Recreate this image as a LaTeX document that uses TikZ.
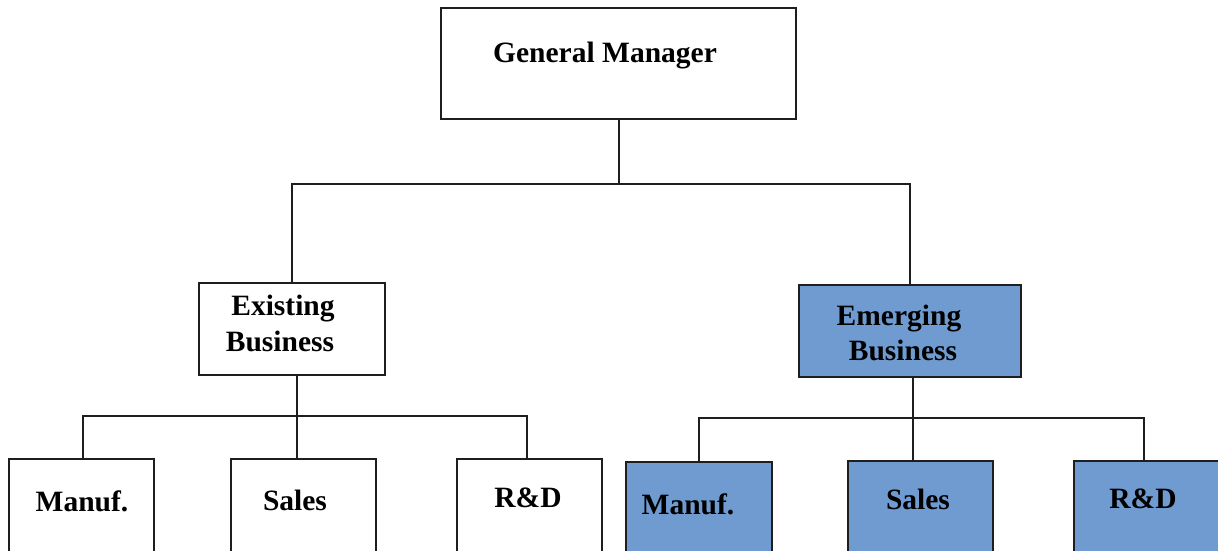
\documentclass[tikz,border=0pt]{standalone}
\usepackage{fontspec}
\setmainfont{Liberation Serif}
\definecolor{boxblue}{RGB}{111,155,209}
\definecolor{edge}{RGB}{30,30,30}
\begin{document}
\begin{tikzpicture}[x=1pt,y=-1pt,
  box/.style={draw=edge, line width=1.8pt, rectangle, inner sep=0pt, outer sep=0pt, anchor=north west},
  bluebox/.style={box, fill=boxblue},
  lbl/.style={font=\bfseries\fontsize{29.5}{36}\selectfont, anchor=base, inner sep=0pt},
  conn/.style={draw=edge, line width=1.8pt}]
\useasboundingbox (0,0) rectangle (1218,550);
\clip (0,0) rectangle (1218,550);

% boxes
\node[box, minimum width=355pt, minimum height=111pt] (gm) at (441,8) {};
\node[box, minimum width=186pt, minimum height=92pt] (ex) at (199,283) {};
\node[bluebox, minimum width=222pt, minimum height=92pt] (em) at (799,285) {};

\node[box, minimum width=145pt, minimum height=110pt] (exm) at (9,459) {};
\node[box, minimum width=145pt, minimum height=110pt] (exs) at (231,459) {};
\node[box, minimum width=145pt, minimum height=110pt] (exr) at (457,459) {};

\node[bluebox, minimum width=146pt, minimum height=110pt] (emm) at (626,462) {};
\node[bluebox, minimum width=145pt, minimum height=110pt] (ems) at (848,461) {};
\node[bluebox, minimum width=146pt, minimum height=110pt] (emr) at (1074,461) {};

% labels
\node[lbl] (gmt) at (605,62) {General Manager};
\node[lbl] (ext1) at (283,315) {Existing};
\node[lbl] (ext2) at (280,351) {Business};
\node[lbl] (emt1) at (899,325) {Emerging};
\node[lbl] (emt2) at (903,360) {Business};

\node[lbl] (exmt) at (82,511) {Manuf.};
\node[lbl] (exst) at (295,510) {Sales};
\node[lbl] (exrt) at (528,507) {R\&D};
\node[lbl] (emmt) at (688,514) {Manuf.};
\node[lbl] (emst) at (918,509) {Sales};
\node[lbl] (emrt) at (1143,508) {R\&D};

% connectors
\coordinate (topbus) at (619,184);
\coordinate (exbus) at (297,416);
\coordinate (embus) at (913,418);

\draw[conn] (topbus |- gm.south) -- (topbus);
\draw[conn] (ex.north) |- (topbus) -| (em.north);

\draw[conn] (exbus |- ex.south) -- (exbus) -- (exbus |- exs.north);
\draw[conn] ([xshift=1.5pt]exm.north) |- (exbus) -| ([xshift=-2.5pt]exr.north);

\draw[conn] (embus |- em.south) -- (embus) -- (embus |- ems.north);
\draw[conn] (emm.north) |- (embus) -| ([xshift=-3pt]emr.north);
\end{tikzpicture}
\end{document}
